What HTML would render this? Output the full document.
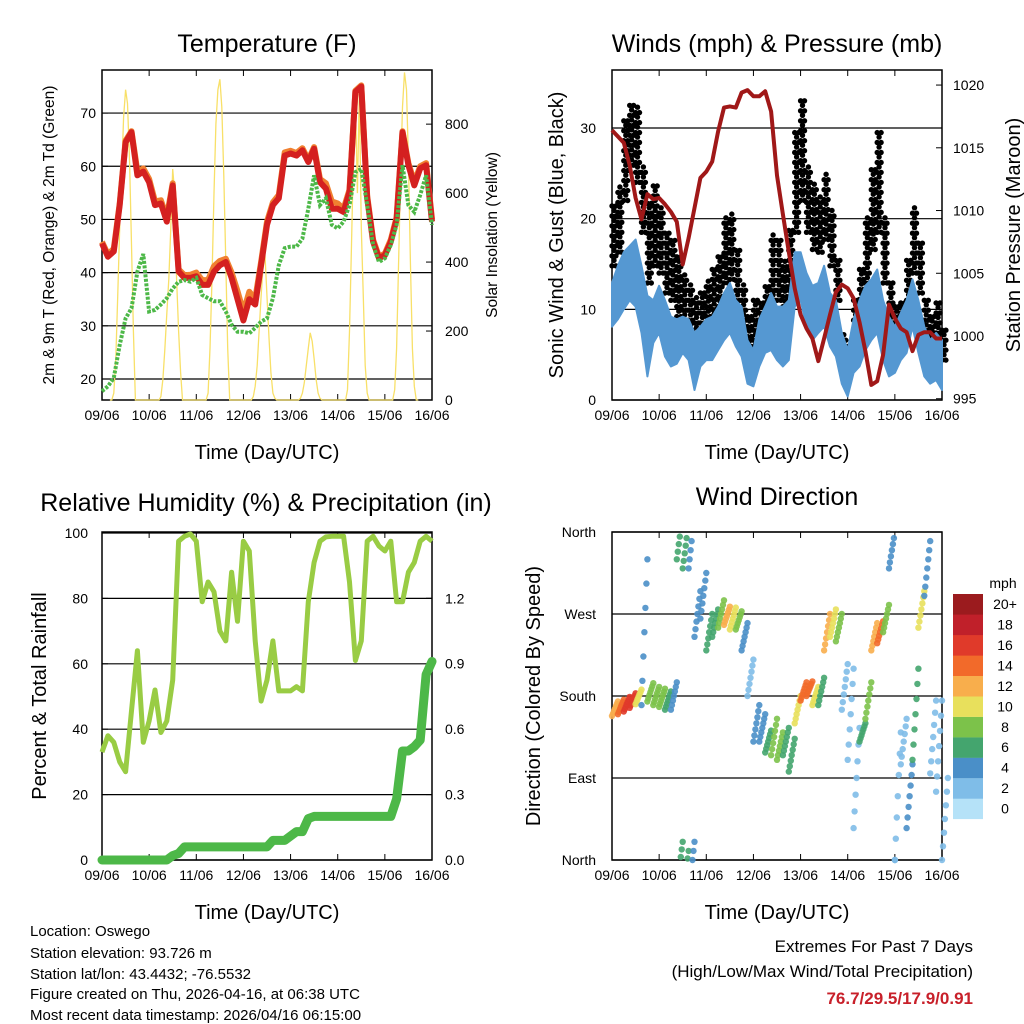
<!DOCTYPE html>
<html><head><meta charset="utf-8"><style>
html,body{margin:0;padding:0;background:#fff}
svg{display:block;font-family:"Liberation Sans",Arial,sans-serif}
</style></head><body>
<svg id="chart" width="1024" height="1024" viewBox="0 0 1024 1024" xmlns="http://www.w3.org/2000/svg">
<rect width="1024" height="1024" fill="#fff"/>
<text x="267" y="52" font-size="25" text-anchor="middle">Temperature (F)</text>
<text x="777" y="52" font-size="25" text-anchor="middle">Winds (mph) &amp; Pressure (mb)</text>
<text x="266" y="511" font-size="25" text-anchor="middle">Relative Humidity (%) &amp; Precipitation (in)</text>
<text x="777" y="505" font-size="25" text-anchor="middle">Wind Direction</text>

<text transform="translate(54,235) rotate(-90)" font-size="15.5" text-anchor="middle">2m &amp; 9m T (Red, Orange) &amp; 2m Td (Green)</text>
<text transform="translate(497,235) rotate(-90)" font-size="15.5" text-anchor="middle">Solar Insolation (Yellow)</text>
<text transform="translate(563,235) rotate(-90)" font-size="20" text-anchor="middle">Sonic Wind &amp; Gust (Blue, Black)</text>
<text transform="translate(1020,235) rotate(-90)" font-size="20" text-anchor="middle">Station Pressure (Maroon)</text>
<text transform="translate(46,696) rotate(-90)" font-size="20" text-anchor="middle">Percent &amp; Total Rainfall</text>
<text transform="translate(540,696) rotate(-90)" font-size="20" text-anchor="middle">Direction (Colored By Speed)</text>

<text x="267" y="459" font-size="20" text-anchor="middle">Time (Day/UTC)</text>
<text x="777" y="459" font-size="20" text-anchor="middle">Time (Day/UTC)</text>
<text x="267" y="919" font-size="20" text-anchor="middle">Time (Day/UTC)</text>
<text x="777" y="919" font-size="20" text-anchor="middle">Time (Day/UTC)</text>

<g font-size="15">
<text x="30" y="936">Location: Oswego</text>
<text x="30" y="958">Station elevation: 93.726 m</text>
<text x="30" y="979">Station lat/lon: 43.4432; -76.5532</text>
<text x="30" y="999">Figure created on Thu, 2026-04-16, at 06:38 UTC</text>
<text x="30" y="1020">Most recent data timestamp: 2026/04/16 06:15:00</text>
</g>
<g font-size="17" text-anchor="end">
<text x="973" y="952">Extremes For Past 7 Days</text>
<text x="973" y="977">(High/Low/Max Wind/Total Precipitation)</text>
<text x="973" y="1004" font-weight="bold" fill="#c8202a">76.7/29.5/17.9/0.91</text>
</g>
<g id="layer"></g>
</svg>
<script>
// ---- data (3-hourly, t = 0..168 h) ----
const dayLabels = ["09/06","10/06","11/06","12/06","13/06","14/06","15/06","16/06"];
const tempT2 = [45.5,43,44,52.7,64.5,66.4,58.3,59,57,52.7,53,49.6,56.4,40.2,39,39,39.3,37.7,37.7,40.2,41.4,42,39,35,31,35,34,41.4,49,52.7,54,62,62.4,62,63,60.8,63.3,57,55.8,52,52,51.4,55.2,74,75,54,45.8,42.7,43.3,45.8,50,66.4,60.2,56.4,59.6,60.2,49.6];
const tempT9 = [45.8,43.4,44.5,53,64.8,66.6,59,59.6,57.6,53.4,53.6,50.4,56.8,40.6,39.5,39.6,40,38.6,38.6,41.2,42.2,42.6,40,36.5,32.6,36.4,35,42,49.6,53.2,54.6,62.6,62.9,62.5,63.4,61.2,63.6,57.6,56.8,53.4,53,52,55.6,74.2,75.2,54.4,46.2,43,43.6,46.2,50.4,66.6,60.6,57,60,60.6,50];
const dewTd = [17.7,18.6,20.2,26.4,31.4,33.3,40.2,43.5,32.7,33,34,35.2,37,38.3,38.6,38.3,39,35.8,35.2,34.6,34.6,32.7,30.2,28.9,28.9,28.6,29.6,30.8,31.4,35.2,41.4,44.6,44.9,44.9,46.4,52,58.3,52.7,54,49,48.3,49.6,52.7,58.9,59.5,52.7,45.2,42,42.7,45.2,49,60.2,52.7,51.4,54.6,58.3,49];
// solar: hourly values for hours 4..17 of each day
const solarDays = [
 [0,0,20,120,300,500,650,820,900,860,700,450,200,0],
 [0,0,10,60,150,250,350,500,670,600,350,200,80,0],
 [0,0,20,150,350,600,800,900,930,850,650,400,150,0],
 [0,10,40,100,200,300,390,420,300,180,80,20,5,0],
 [0,5,20,50,100,150,195,170,120,60,20,5,0,0],
 [0,30,200,450,700,880,600,890,500,300,100,20,0,0],
 [0,30,150,400,650,850,950,900,700,400,150,40,0,0]];
const pressure = [1016.4,1015.9,1015.4,1013.6,1011,1009.3,1011.3,1010.9,1011,1010.5,1009.9,1009.1,1005.7,1007.8,1010.2,1012.6,1013.1,1013.9,1016.3,1018.2,1018.3,1018.2,1019.4,1019.6,1019.1,1019.1,1019.5,1017.9,1012.8,1009.7,1006.7,1003.8,1001.7,1000.6,999.8,998,999.8,1001.7,1003.5,1004.1,1003.8,1003,1001.1,998.8,996.1,996.4,998.5,1002.5,1001.4,1000.6,1000.3,998.8,1000.1,1000.3,1000.3,999.8,999.8];
const windHi = [12.9,14.8,16.3,17,17.7,14.8,11.5,11,12.6,11,9.2,8.9,9.2,8.9,7.4,8.1,8.9,9.2,10.3,11.8,12.9,11,10.3,6.6,5.5,8.9,10.3,11.8,10.3,10.3,11,16.3,16.3,14,12.6,12.9,14.8,11.8,11,7.4,5.5,8.9,11,12.6,13.3,14.4,11,9.2,8.1,9.6,11,13.3,11,8.1,6.6,7.4,6.6];
const windLo = [8.1,8.9,10,11,10.3,7.4,2.6,6.3,7.4,4.8,3.7,4,5.2,4.4,1.1,3.7,4.4,4.4,5.5,6.6,7.4,5.9,4.8,1.8,1.5,3.7,5.2,5.5,4.4,3.7,4.4,10.3,11,8.1,6.6,7.4,8.1,5.9,4.8,1.8,0.4,3,3.7,5.5,6.6,7.4,4.4,2.6,3,4.4,5.2,8.1,5.2,2.6,1.8,2.2,1.1];
const gustHi = [22,24,31.4,33,32.5,25.9,22,24,21.4,18.5,17.7,16.3,14,12.9,11.5,11.8,13.3,14.8,16.3,20.3,20.7,17,12.9,9.2,11,11,12.6,18.5,17.7,15.5,19.2,29.6,33.2,25.9,24,22.9,25.1,21,15.5,7.4,6.3,11,14.8,20.3,25.9,29.6,20.3,12.9,10.3,11,15.5,21.4,17.7,11,9.6,11,8.1];
const gustLo = [14.8,16.3,22,25.9,24,18.5,12.9,14.8,14,11.8,11,8.1,6.6,5.5,5.2,7.4,8.1,8.9,10.3,12.9,13.3,11,6.6,3.7,4.4,7.4,8.1,11,11,9.2,11,18.5,22,18.5,16.6,16.3,17.7,14.8,11,4.4,3.7,5.5,8.9,12.9,16.6,18.5,12.9,7.4,5.9,7.4,11,14,11.8,6.6,5.9,6.3,4.4];
const humidity = [33,38,36,30,27,45.6,64,36,42.5,52,39,42.5,55,97.5,99,99.7,97.5,79,85,82,70,67,88,73,97.5,94.5,67,48.6,55,67,51.7,51.7,51.7,53,51.7,79,91,97.5,98.8,99,99,99,85,61,67,97.5,99,96,94.5,97.5,79,79,88,91,97.5,99,97.5];
const rainfall = [0,0,0,0,0,0,0,0,0,0,0,0,0.02,0.03,0.06,0.06,0.06,0.06,0.06,0.06,0.06,0.06,0.06,0.06,0.06,0.06,0.06,0.06,0.06,0.09,0.09,0.09,0.11,0.13,0.13,0.19,0.2,0.2,0.2,0.2,0.2,0.2,0.2,0.2,0.2,0.2,0.2,0.2,0.2,0.2,0.28,0.5,0.5,0.52,0.55,0.85,0.91];
const windDir = [166,168,171,175,179,250,184,180,178,175,180,355,345,350,270,290,250,260,270,268,265,263,245,200,150,145,130,135,125,130,115,165,185,188,180,185,250,260,255,190,160,90,140,175,245,250,265,340,70,130,70,160,275,320,135,125,45];
const dirSpread = [8,8,8,8,8,80,10,10,10,10,15,25,25,30,25,25,20,15,15,10,12,10,15,20,20,15,12,20,15,15,18,15,10,8,10,15,20,15,15,25,50,55,10,20,15,12,15,20,70,25,35,50,20,30,40,50,45];
const dirSpeed = [12,15,16,17,11,5,9,9,8,6,4,6,6,4,4,4,6,7,8,12,11,9,5,3,4,5,6,8,8,7,6,11,15,14,11,7,13,11,8,3,3,2,7,8,12,14,8,4,2,3,4,6,11,4,3,3,3];
const speedLabels = ["0","2","4","6","8","10","12","14","16","18","20+"];
const speedColors = ["#b5e2f8","#7fbde8","#4a8fc8","#44a56e","#7cc24a","#e8e05c","#f8ae4c","#f26a2a","#e03a2a","#c0202a","#9b1b1e"];

const NS="http://www.w3.org/2000/svg";
const layer=document.getElementById('layer');
function mk(tag,attrs,parent){const e=document.createElementNS(NS,tag);for(const k in attrs)e.setAttribute(k,attrs[k]);(parent||layer).appendChild(e);return e;}
const P1={x0:102,x1:432,y0:70,y1:400}, P2={x0:612,x1:942,y0:70,y1:400}, P3={x0:102,x1:432,y0:532,y1:860}, P4={x0:612,x1:942,y0:532,y1:860};
function xs(p,t){return p.x0+t/168*(p.x1-p.x0);}
function ys(p,v,lo,hi){return p.y1-(v-lo)/(hi-lo)*(p.y1-p.y0);}
const T=[0,78.1], SOL=[0,957], WS=[0,36.4], PR=[994.9,1021.2], RH=[0,100.3], RF=[0,1.504], DR=[0,360];

function frame(p,name){
  const g=mk('g',{});
  
  
  for(let d=0;d<=7;d++){
    const x=xs(p,d*24);
    mk('line',{x1:x,x2:x,y1:p.y1,y2:p.y1-6,stroke:'#000','stroke-width':1},g);
    mk('line',{x1:x,x2:x,y1:p.y0,y2:p.y0+6,stroke:'#000','stroke-width':1},g);
    const t=mk('text',{x:x,y:p.y1+20,'font-size':14,'text-anchor':'middle'},g);
    t.textContent=dayLabels[d];
    
    
  }
  return g;
}
function grid(p,g,vals,lo,hi,labels,lx,anchor,draw){
  vals.forEach((v,i)=>{const y=ys(p,v,lo,hi);
    if(draw)mk('line',{x1:p.x0,x2:p.x1,y1:y,y2:y,stroke:'#000','stroke-width':1.2},g);
    const side=anchor==='end'?p.x0:p.x1;
    mk('line',{x1:side,x2:anchor==='end'?side+6:side-6,y1:y,y2:y,stroke:'#000'},g);
    const t=mk('text',{x:lx,y:y+5,'font-size':14,'text-anchor':anchor},g);
    t.textContent=labels[i];
    
    
  });
}
function border(p,g){mk('rect',{x:p.x0,y:p.y0,width:p.x1-p.x0,height:p.y1-p.y0,fill:'none',stroke:'#000','stroke-width':1.5},g);}
function pts(p,arr,lo,hi){return arr.map((v,i)=>xs(p,i*3).toFixed(1)+','+ys(p,v,lo,hi).toFixed(1)).join(' ');}

// ---- Panel 1: temperature ----
let g=frame(P1,'temperature');
grid(P1,g,[20,30,40,50,60,70],T[0]+16.05,T[1],["20","30","40","50","60","70"],96,'end',true);
grid(P1,g,[0,200,400,600,800],SOL[0],SOL[1],["0","200","400","600","800"],445,'start',false);
let solarPts=[];
solarDays.forEach((day,d)=>day.forEach((v,h)=>solarPts.push(xs(P1,d*24+4+h).toFixed(1)+','+ys(P1,v,SOL[0],SOL[1]).toFixed(1))));
let e=mk('polyline',{points:solarPts.join(' '),fill:'none',stroke:'#f8e068','stroke-width':1.3});


e=mk('polyline',{points:pts(P1,tempT9,16.05,78.1),fill:'none',stroke:'#f08030','stroke-width':6,'stroke-linejoin':'round'});


e=mk('polyline',{points:pts(P1,tempT2,16.05,78.1),fill:'none',stroke:'#d42020','stroke-width':6,'stroke-linejoin':'round'});


e=mk('polyline',{points:pts(P1,dewTd,16.05,78.1),fill:'none',stroke:'#4db848','stroke-width':4,'stroke-dasharray':'3 1.5'});


border(P1,g);

// ---- Panel 2: winds ----
g=frame(P2,'winds');
grid(P2,g,[0,10,20,30],WS[0],WS[1],["0","10","20","30"],596,'end',true);
grid(P2,g,[995,1000,1005,1010,1015,1020],PR[0],PR[1],["995","1000","1005","1010","1015","1020"],953,'start',false);
const gd=mk('g',{});


gustHi.forEach((hi,i)=>{const lo=gustLo[i];for(let j=0;j<3;j++){for(let v=lo+ (j%2)*0.6;v<=hi;v+=1.1){
  const c=mk('circle',{cx:xs(P2,i*3+j).toFixed(1),cy:ys(P2,v,WS[0],WS[1]).toFixed(1),r:2.7,fill:'#000'},gd);
  
  
}}});
const band=windHi.map((v,i)=>xs(P2,i*3).toFixed(1)+','+ys(P2,v,WS[0],WS[1]).toFixed(1)).concat(windLo.map((v,i)=>xs(P2,i*3).toFixed(1)+','+ys(P2,v,WS[0],WS[1]).toFixed(1)).reverse()).join(' ');
e=mk('polygon',{points:band,fill:'#5598d2',stroke:'#5598d2','stroke-width':2,'stroke-linejoin':'round'});


e=mk('polyline',{points:pts(P2,pressure,PR[0],PR[1]),fill:'none',stroke:'#a01818','stroke-width':4,'stroke-linejoin':'round'});


border(P2,g);

// ---- Panel 3: humidity & rain ----
g=frame(P3,'humidity');
grid(P3,g,[0,20,40,60,80,100],RH[0],RH[1],["0","20","40","60","80","100"],88,'end',true);
grid(P3,g,[0,0.3,0.6,0.9,1.2],RF[0],RF[1],["0.0","0.3","0.6","0.9","1.2"],445,'start',false);
e=mk('polyline',{points:pts(P3,humidity,RH[0],RH[1]),fill:'none',stroke:'#99cc44','stroke-width':5,'stroke-linejoin':'round'});


e=mk('polyline',{points:pts(P3,rainfall,RF[0],RF[1]),fill:'none',stroke:'#4db848','stroke-width':9,'stroke-linejoin':'round','stroke-linecap':'round'});


border(P3,g);

// ---- Panel 4: wind direction ----
g=frame(P4,'direction');
grid(P4,g,[0,90,180,270,360],DR[0],DR[1],["North","East","South","West","North"],596,'end',true);
const dg=mk('g',{});


windDir.forEach((d,i)=>{const sp=dirSpread[i];const ci=Math.min(10,Math.floor(dirSpeed[i]/2));
  for(let j=-3;j<=3;j++){let v=((d+sp*j/3)%360+360)%360;
    const c=mk('circle',{cx:xs(P4,i*3+(j+3)*0.5).toFixed(1),cy:ys(P4,v,DR[0],DR[1]).toFixed(1),r:3.2,fill:speedColors[ci],'fill-opacity':0.9},dg);
    
    
  }});
border(P4,g);

// colorbar
const cb=mk('g',{});


let t=mk('text',{x:1003,y:588,'font-size':14,'text-anchor':'middle'},cb);
t.textContent='mph';


speedColors.forEach((c,i)=>{const y=819-(i+1)*20.45;
  const r=mk('rect',{x:953,y:y.toFixed(1),width:30,height:20.6,fill:c},cb);
  
  
  const tx=mk('text',{x:1005,y:(y+15).toFixed(1),'font-size':14,'text-anchor':'middle'},cb);
  tx.textContent=speedLabels[i];
  
  
});
</script>
</body></html>
